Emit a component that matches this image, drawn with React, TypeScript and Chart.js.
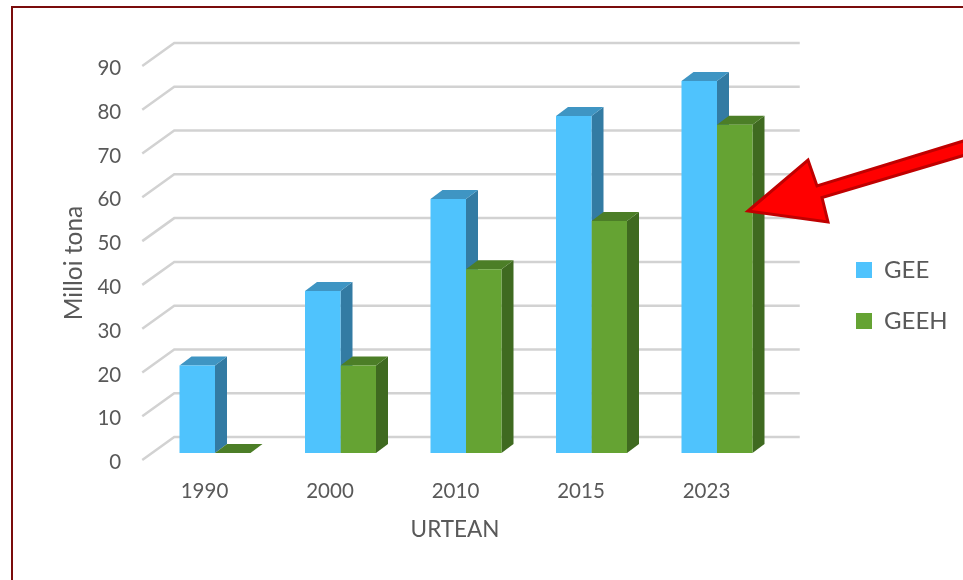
import React, { useEffect, useRef } from "react";
import { Chart, registerables } from "chart.js";

Chart.register(...registerables);

const categories = ["1990", "2000", "2010", "2015", "2023"];
const geeValues = [20, 37, 58, 77, 85];
const geehValues = [0, 20, 42, 53, 75];
const seriesNames = ["GEE", "GEEH"];
const yTickStep = 10;
const yMax = 90;
const xTitle = "URTEAN";
const yTitle = "Milloi tona";

const FONT = "Lato, 'Open Sans', sans-serif";
const TEXT = "#595959";
const DEPTH_X = 12;
const DEPTH_Y = 9;

const faces: Record<string, { front: string; side: string; top: string }> = {
  GEE: { front: "#4FC3FD", side: "#337BA3", top: "#3F95C3" },
  GEEH: { front: "#65A333", side: "#3F6A20", top: "#4C7E27" },
};

const poly = (ctx: CanvasRenderingContext2D, pts: number[][], fill: string) => {
  ctx.beginPath();
  pts.forEach(([x, y], i) => (i ? ctx.lineTo(x, y) : ctx.moveTo(x, y)));
  ctx.closePath();
  ctx.fillStyle = fill;
  ctx.fill();
};

const frame3d = {
  id: "frame3d",
  beforeLayout(chart: any) {
    const legend = chart.legend;
    if (legend && !legend.__wrapped) {
      const fit = legend.fit.bind(legend);
      legend.fit = () => {
        fit();
        legend.width = 183.25;
      };
      legend.__wrapped = true;
    }
  },
  afterLayout(chart: any) {
    const legend = chart.legend;
    const h = legend.bottom - legend.top;
    legend.left = 856 - legend.options.labels.padding;
    legend.right = legend.left + 183;
    legend.top = 258 - legend.options.labels.padding;
    legend.bottom = legend.top + h;
  },
  beforeDraw(chart: any) {
    const { ctx } = chart;
    ctx.save();
    ctx.strokeStyle = "#7A0C0C";
    ctx.lineWidth = 2;
    ctx.beginPath();
    ctx.moveTo(12, 580);
    ctx.lineTo(12, 7);
    ctx.lineTo(963, 7);
    ctx.stroke();
    ctx.restore();
  },
  beforeDatasetsDraw(chart: any) {
    const { ctx, chartArea, scales } = chart;
    ctx.save();
    ctx.strokeStyle = "#D2D2D2";
    ctx.lineWidth = 2.5;
    ctx.lineJoin = "miter";
    scales.y.ticks.forEach((t: any) => {
      const y = scales.y.getPixelForValue(t.value);
      ctx.beginPath();
      ctx.moveTo(chartArea.left - 10, y + 7);
      ctx.lineTo(chartArea.left + 22, y - 16);
      ctx.lineTo(chartArea.right + 20, y - 16);
      ctx.stroke();
    });
    ctx.restore();
    // Side and top faces go under all front faces, in series order.
    chart.data.datasets.forEach((ds: any, i: number) => {
      const c = faces[ds.label];
      chart.getDatasetMeta(i).data.forEach((bar: any) => {
        const l = bar.x - bar.width / 2;
        const r = bar.x + bar.width / 2;
        const t = bar.y;
        const b = bar.base;
        poly(ctx, [[r, t], [r + DEPTH_X, t - DEPTH_Y], [r + DEPTH_X, b - DEPTH_Y], [r, b]], c.side);
        poly(ctx, [[l, t], [l + DEPTH_X, t - DEPTH_Y], [r + DEPTH_X, t - DEPTH_Y], [r, t]], c.top);
      });
    });
  },
  afterDatasetsDraw(chart: any) {
    const { ctx } = chart;
    ctx.save();
    ctx.beginPath();
    ctx.moveTo(748, 211);
    ctx.lineTo(808, 160);
    ctx.lineTo(817, 186);
    ctx.lineTo(970, 139);
    ctx.lineTo(970, 153.5);
    ctx.lineTo(822, 197.5);
    ctx.lineTo(828, 222);
    ctx.closePath();
    ctx.fillStyle = "#FF0000";
    ctx.fill();
    ctx.strokeStyle = "#C00000";
    ctx.lineWidth = 3;
    ctx.lineJoin = "miter";
    ctx.stroke();
    ctx.restore();
  },
};

const shiftTitle = (dx: number, dy: number) => (scale: any) => {
  if (scale.__shifted) return;
  const draw = scale.drawTitle.bind(scale);
  scale.drawTitle = () => {
    scale.ctx.save();
    scale.ctx.translate(dx, dy);
    draw();
    scale.ctx.restore();
  };
  scale.__shifted = true;
};

export default function App() {
  const ref = useRef<HTMLCanvasElement>(null);
  useEffect(() => {
    const chart = new Chart(ref.current as HTMLCanvasElement, {
      type: "bar",
      plugins: [frame3d],
      data: {
        labels: categories,
        datasets: [
          { label: seriesNames[0], data: geeValues, backgroundColor: faces.GEE.front },
          { label: seriesNames[1], data: geehValues, backgroundColor: faces.GEEH.front },
        ],
      },
      options: {
        responsive: false,
        animation: false,
        layout: { padding: { top: 59, left: 0, right: 0, bottom: 0 } },
        datasets: { bar: { categoryPercentage: 71 / 125.5, barPercentage: 1 } },
        font: { family: FONT },
        plugins: {
          tooltip: { enabled: false },
          legend: {
            position: "right",
            align: "start",
            labels: {
              boxWidth: 16,
              boxHeight: 16,
              padding: 27,
              color: TEXT,
              font: { family: FONT, size: 24 },
            },
          },
        },
        scales: {
          x: {
            grid: { display: false },
            border: { display: false },
            ticks: {
              color: TEXT,
              font: { family: FONT, size: 20.5 },
              labelOffset: -10.5,
              padding: 18,
              maxRotation: 0,
            },
            title: {
              display: true,
              text: xTitle,
              color: TEXT,
              font: { family: FONT, size: 22.5 },
              padding: 0,
            },
            afterFit: (s: any) => {
              s.height = 127;
            },
            afterUpdate: shiftTitle(-11, -37),
          },
          y: {
            min: 0,
            max: yMax,
            grid: { display: false },
            border: { display: false },
            ticks: {
              stepSize: yTickStep,
              color: TEXT,
              font: { family: FONT, size: 20.5 },
              labelOffset: 9.5,
              padding: 23,
            },
            title: {
              display: true,
              text: yTitle,
              color: TEXT,
              font: { family: FONT, size: 24.5 },
              padding: 0,
            },
            afterFit: (s: any) => {
              s.width = 152.25;
            },
            afterUpdate: shiftTitle(59, 7),
          },
        },
      },
    } as any);
    return () => chart.destroy();
  }, []);
  return (
    <canvas
      ref={ref}
      width={963}
      height={580}
      style={{ position: "fixed", left: 0, top: 0, display: "block", background: "#fff" }}
    />
  );
}
